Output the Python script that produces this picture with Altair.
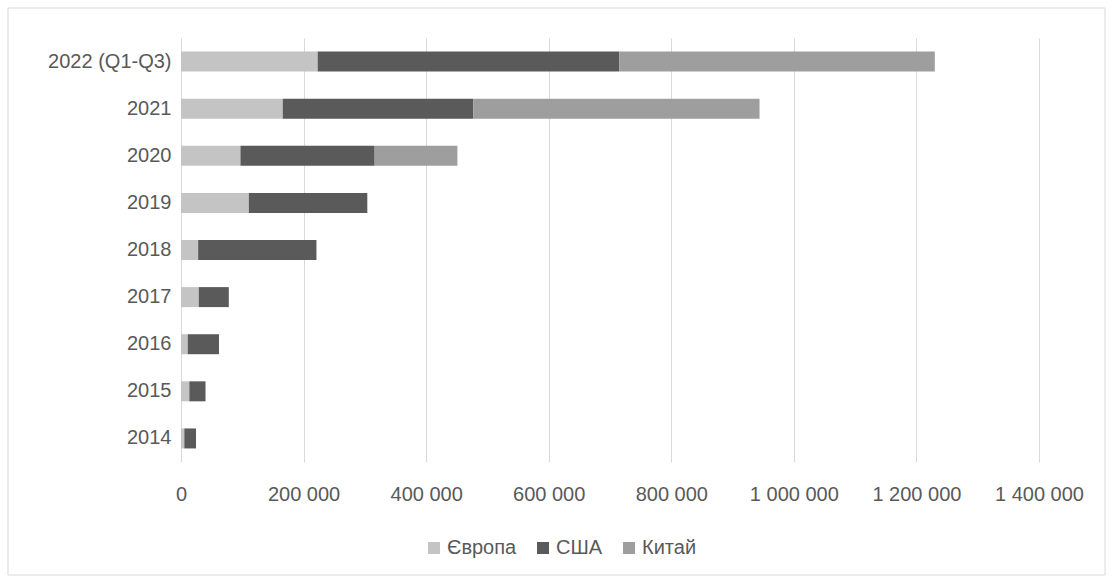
import altair as alt
import pandas as pd

years = ["2014", "2015", "2016", "2017", "2018", "2019", "2020", "2021", "2022 (Q1-Q3)"]
series = ["Європа", "США", "Китай"]
europe = [5400, 13600, 11000, 29000, 28000, 110700, 97000, 166000, 223000]
usa = [19100, 26400, 51000, 49000, 193000, 193300, 219000, 311000, 492000]
china = [0, 0, 0, 0, 0, 0, 135000, 467000, 515000]
colors = ["#c4c4c4", "#5a5a5a", "#9e9e9e"]
x_ticks = [0, 200000, 400000, 600000, 800000, 1000000, 1200000, 1400000]

rows = []
for i, y in enumerate(years):
    for k, (name, vals) in enumerate(zip(series, [europe, usa, china])):
        rows.append({"year": y, "series": name, "value": vals[i], "order": k})
df = pd.DataFrame(rows)

FONT = "Liberation Sans"
TXT = "#595959"
FS = 20

bars = alt.Chart(df).mark_bar(size=20).encode(
    y=alt.Y("year:N", sort=years[::-1], title=None,
            axis=alt.Axis(domain=False, ticks=False, labelPadding=10, labelFontSize=FS,
                          labelColor=TXT, labelFont=FONT, grid=False)),
    x=alt.X("value:Q", stack="zero", title=None,
            scale=alt.Scale(domain=[0, 1400000], nice=False),
            axis=alt.Axis(values=x_ticks, domain=False, ticks=False, labelPadding=22,
                          labelFontSize=FS, labelColor=TXT, labelFont=FONT,
                          labelOverlap=False, labelFlush=False,
                          gridColor="#d9d9d9", gridWidth=1,
                          labelExpr="replace(format(datum.value, ','), regexp(',', 'g'), ' ')")),
    color=alt.Color("series:N", sort=series,
                    scale=alt.Scale(domain=series, range=colors),
                    legend=alt.Legend(title=None, orient="none", direction="horizontal",
                                      legendX=243, legendY=500, symbolType="square",
                                      symbolSize=144, symbolStrokeWidth=0, columnPadding=16,
                                      labelFontSize=FS, labelColor=TXT, labelFont=FONT,
                                      labelOffset=3)),
    order=alt.Order("order:Q"),
)

frame = alt.Chart(pd.DataFrame({"a": [0]})).mark_rect(fill=None, stroke="#d9d9d9", strokeWidth=1).encode(
    x=alt.value(-173), x2=alt.value(924), y=alt.value(-30), y2=alt.value(537)
)

chart = alt.layer(frame, bars).properties(
    width=858, height=424,
    padding={"left": 181, "top": 38, "right": 74, "bottom": 121},
    autosize=alt.AutoSizeParams(type="none"),
    background="white",
).configure_view(stroke=None)

chart.save("out.html", embed_options={"renderer": "svg", "actions": False})
